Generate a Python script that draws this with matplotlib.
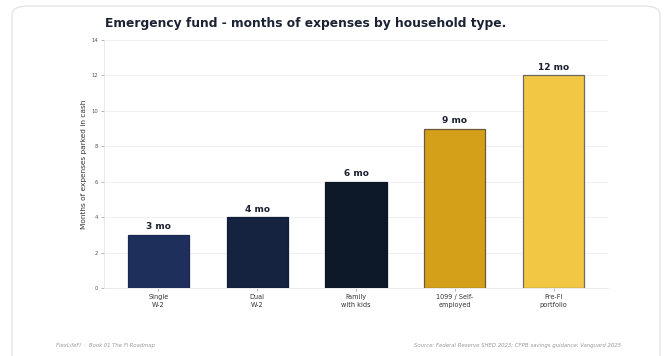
import matplotlib
matplotlib.use("Agg")
import matplotlib.pyplot as plt
from matplotlib.patches import FancyBboxPatch

categories = ["Single\nW-2", "Dual\nW-2", "Family\nwith kids", "1099 / Self-\nemployed", "Pre-FI\nportfolio"]
months = [3, 4, 6, 9, 12]
value_labels = ["3 mo", "4 mo", "6 mo", "9 mo", "12 mo"]
bar_colors = ["#1f2f5c", "#152240", "#0d1829", "#d4a01a", "#f2c744"]
edge_colors = ["#1a2850", "#121d38", "#0b1524", "#6a5a3a", "#6e6a5e"]
yticks = [0, 2, 4, 6, 8, 10, 12, 14]

W, H = 666, 356
fig = plt.figure(figsize=(W / 100, H / 100), dpi=100)
fig.patch.set_facecolor("white")

card = FancyBboxPatch((12 / W, -20 / H), (648) / W, (350 + 20) / H,
                      boxstyle="round,pad=0,rounding_size=0.025",
                      transform=fig.transFigure, facecolor="white",
                      edgecolor="#e3e5ec", linewidth=1.0, zorder=-5)
fig.patches.append(card)

ax = fig.add_axes([104 / W, (H - 288) / H, (608 - 104) / W, (288 - 40) / H])
ax.set_zorder(2)
ax.set_facecolor("white")
x = list(range(len(categories)))
ax.bar(x, months, width=0.62, color=bar_colors, edgecolor=edge_colors, linewidth=0.9, zorder=3)
for xi, v, lab in zip(x, months, value_labels):
    ax.text(xi, v + 0.2, lab, ha="center", va="bottom", fontsize=6.5,
            fontweight="bold", color="#1a1f2e", zorder=4)

ax.set_xlim(-0.55, 4.55)
ax.set_ylim(0, 14)
ax.set_yticks(yticks)
ax.set_yticklabels([str(t) for t in yticks], fontsize=3.8, color="#555555")
ax.set_xticks(x)
ax.set_xticklabels(categories, fontsize=4.7, color="#333333", linespacing=1.45)
ax.tick_params(axis="both", length=2, width=0.5, color="#999999", pad=2)
ax.set_ylabel("Months of expenses parked in cash", fontsize=5.3, color="#333333")
ax.yaxis.set_label_coords(-17 / 504, 0.5)
ax.grid(axis="y", color="#eeeef2", linewidth=0.6, zorder=0)
for s in ["top", "right"]:
    ax.spines[s].set_visible(False)
for s in ["left", "bottom"]:
    ax.spines[s].set_color("#e6e6ea")
    ax.spines[s].set_linewidth(0.6)

fig.text(105 / W, 1 - 23 / H, "Emergency fund - months of expenses by household type.",
         fontsize=8.8, fontweight="bold", color="#1a2233", ha="left", va="center", zorder=5)

fig.text(56 / W, 1 - 346 / H, "FlexLifeFI  \u00b7  Book 01 The FI Roadmap", fontsize=3.8,
         style="italic", color="#999999", ha="left", va="center")
fig.text(621 / W, 1 - 346 / H, "Source: Federal Reserve SHED 2023; CFPB savings guidance; Vanguard 2025",
         fontsize=3.9, style="italic", color="#999999", ha="right", va="center")

fig.savefig("out.png", dpi=100, facecolor="white")
